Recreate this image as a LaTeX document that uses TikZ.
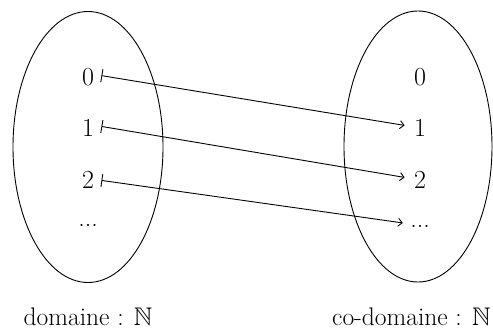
\documentclass[tikz,border=0pt]{standalone}
\usepackage{amssymb}
\usetikzlibrary{arrows.meta}
\begin{document}
\begin{tikzpicture}[x=1pt,y=-1pt,line width=0.9pt,
  elem/.style={anchor=base,inner sep=0pt,font=\fontsize{26}{30}\selectfont},
  lab/.style={anchor=base,inner sep=0pt,font=\fontsize{25.5}{30}\selectfont},
  maparrow/.style={{Bar[width=13pt,line width=0.9pt]}-{Straight Barb[length=4pt,width=8pt,line width=0.9pt]}}]
\useasboundingbox (0,0) rectangle (493,329);
\draw (88,147) ellipse [x radius=75, y radius=135.5];
\draw (418,146.5) ellipse [x radius=74, y radius=135.5];
\node[elem] (a0) at (88,85) {0};
\node[elem] (a1) at (88,136) {1};
\node[elem] (a2) at (88,188) {2};
\node[elem] (a3) at (88,226) {...};
\node[elem] (b0) at (420,85) {0};
\node[elem] (b1) at (420,136) {1};
\node[elem] (b2) at (420,188) {2};
\node[elem] (b3) at (420,227) {...};
\draw[maparrow] ([xshift=7pt,yshift=1pt]a0.east) -- ([xshift=-9pt,yshift=2pt]b1.west);
\draw[maparrow] ([xshift=7pt,yshift=1pt]a1.east) -- ([xshift=-9pt,yshift=2pt]b2.west);
\draw[maparrow] ([xshift=7pt,yshift=-1pt]a2.east) -- ([xshift=-7pt,yshift=3pt]b3.west);
\node[lab] (d) at (88,325) {domaine : $\mathbb{N}$};
\node[lab,anchor=base east] (cd) at (491,325) {co-domaine : $\mathbb{N}$};
\end{tikzpicture}
\end{document}
